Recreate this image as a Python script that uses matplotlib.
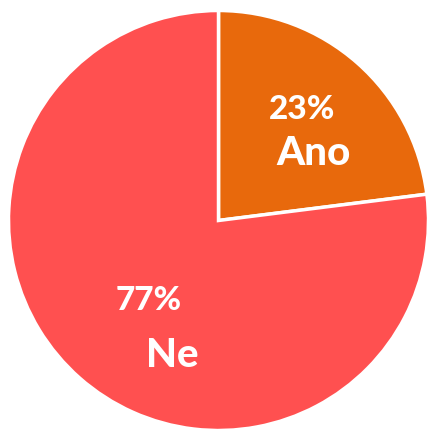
import matplotlib
matplotlib.use("Agg")
import matplotlib.pyplot as plt

# Data
labels = ["Ano", "Ne"]
values = [23, 77]
colors = ["#E8690C", "#FF5050"]

# label positions (data coords) for percentage and name
pct_pos = [(0.40, 0.53), (-0.333, -0.382)]
name_pos = [(0.45, 0.32), (-0.22, -0.644)]

fig = plt.figure(figsize=(4.29, 4.30), dpi=100)
# pie area ~420 px square, centre at about (219, 220)
ax = fig.add_axes([8.5 / 429, -0.5 / 430, 420 / 429, 420 / 430])

ax.pie(values, colors=colors, startangle=90, counterclock=False,
       radius=1, wedgeprops=dict(edgecolor="white", linewidth=2.5))

for val, lab, pp, npos in zip(values, labels, pct_pos, name_pos):
    ax.text(pp[0], pp[1], f"{val}%", color="white", fontsize=24,
            fontweight="black", family="Lato", ha="center", va="center")
    ax.text(npos[0], npos[1], lab, color="white", fontsize=29,
            fontweight="black", family="Lato", ha="center", va="center")

ax.set_xlim(-1, 1)
ax.set_ylim(-1, 1)
ax.set_aspect("equal")
ax.axis("off")

fig.savefig("out.png", dpi=100)
